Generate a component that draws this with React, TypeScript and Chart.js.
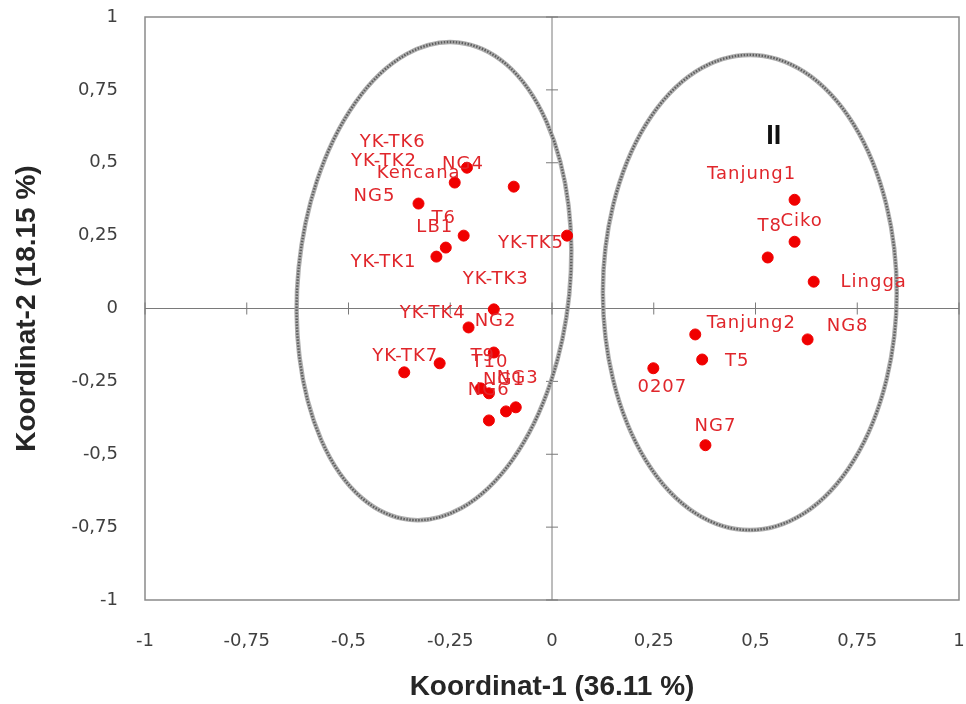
import React, { useEffect, useRef } from "react";
import { Chart, registerables } from "chart.js";

Chart.register(...registerables);

// ---- data ----
const genotypes = [
  "NG4", "Kencana", "YK-TK6", "NG5", "T6", "LB1", "YK-TK1", "YK-TK5", "YK-TK3",
  "NG2", "T9", "YK-TK4", "YK-TK7", "NG6", "T10", "NG1", "NG3", "YK-TK2",
  "Tanjung1", "Ciko", "T8", "Lingga", "Tanjung2", "NG8", "T5", "0207", "NG7",
];
const coord1 = [
  -0.209, -0.239, -0.094, -0.328, -0.217, -0.261, -0.284, 0.037, -0.143,
  -0.205, -0.143, -0.276, -0.363, -0.175, -0.155, -0.113, -0.089, -0.155,
  0.596, 0.596, 0.53, 0.643, 0.352, 0.628, 0.369, 0.249, 0.377,
];
const coord2 = [
  0.483, 0.432, 0.418, 0.36, 0.25, 0.209, 0.178, 0.25, -0.003,
  -0.065, -0.151, -0.188, -0.219, -0.274, -0.291, -0.353, -0.339, -0.384,
  0.373, 0.229, 0.175, 0.092, -0.089, -0.106, -0.175, -0.205, -0.469,
];
const xTickLabels = ["-1", "-0,75", "-0,5", "-0,25", "0", "0,25", "0,5", "0,75", "1"];
const yTickLabels = ["-1", "-0,75", "-0,5", "-0,25", "0", "0,25", "0,5", "0,75", "1"];

// group ellipses (data units)
const groupNames = ["", "II"];
const ellipseCx = [-0.29, 0.486];
const ellipseCy = [0.094, 0.055];
const ellipseRx = [0.334, 0.361];
const ellipseRy = [0.823, 0.815];
const groupNameY = [0, 0.59];
const groupNameX = [0, 0.545];

// ---- label layout (pixel offsets from each point) ----
const labelOffsets: [number, number][] = [
  [-4, -3], [-36, -9], [-121, -44], [-44, -7], [-20, -17], [-11, -20], [-53, 6], [-36, 8], [2, -30],
  [27, -6], [-11, 4], [-7, -50], [1, -16], [8, 2], [1, -31], [-2, -31], [2, -29], [-105, -259],
  [-43, -25], [7, -20], [2, -31], [60, 1], [56, -11], [40, -13], [35, 2], [9, 19], [10, -19],
];
const ellipseTilt = [0.1, 0];

const decorPlugin = {
  id: "decor",
  beforeDatasetsDraw(chart: any) {
    const { ctx, chartArea: a, scales } = chart;
    const xs = scales.x;
    const ys = scales.y;
    ctx.save();
    // box
    ctx.strokeStyle = "#8a8a8a";
    ctx.lineWidth = 1.5;
    ctx.strokeRect(a.left, a.top, a.right - a.left, a.bottom - a.top);
    // crossing axes
    const x0 = xs.getPixelForValue(0);
    const y0 = ys.getPixelForValue(0);
    ctx.strokeStyle = "#7a7a7a";
    ctx.lineWidth = 1;
    ctx.beginPath();
    ctx.moveTo(a.left, y0);
    ctx.lineTo(a.right, y0);
    ctx.moveTo(x0, a.top);
    ctx.lineTo(x0, a.bottom);
    xs.ticks.forEach((t: any) => {
      const px = xs.getPixelForValue(t.value);
      ctx.moveTo(px, y0 - 6);
      ctx.lineTo(px, y0 + 6);
    });
    ys.ticks.forEach((t: any) => {
      const py = ys.getPixelForValue(t.value);
      ctx.moveTo(x0 - 6, py);
      ctx.lineTo(x0 + 6, py);
    });
    ctx.stroke();
    // ellipses
    for (let i = 0; i < ellipseCx.length; i++) {
      const cx = xs.getPixelForValue(ellipseCx[i]);
      const cy = ys.getPixelForValue(ellipseCy[i]);
      const rx = Math.abs(xs.getPixelForValue(ellipseRx[i]) - xs.getPixelForValue(0));
      const ry = Math.abs(ys.getPixelForValue(ellipseRy[i]) - ys.getPixelForValue(0));
      ctx.setLineDash([]);
      ctx.strokeStyle = "rgba(165,165,165,0.9)";
      ctx.lineWidth = 4.5;
      ctx.beginPath();
      ctx.ellipse(cx, cy, rx, ry, ellipseTilt[i], 0, Math.PI * 2);
      ctx.stroke();
      ctx.setLineDash([1.5, 1.5]);
      ctx.strokeStyle = "rgba(85,85,85,0.9)";
      ctx.lineWidth = 2.4;
      ctx.beginPath();
      ctx.ellipse(cx, cy, rx, ry, ellipseTilt[i], 0, Math.PI * 2);
      ctx.stroke();
    }
    ctx.restore();
  },
  afterDatasetsDraw(chart: any) {
    const { ctx, scales } = chart;
    const meta = chart.getDatasetMeta(0);
    ctx.save();
    ctx.font = "18px 'DejaVu Sans'";
    (ctx as any).letterSpacing = "1px";
    ctx.fillStyle = "#e0262b";
    ctx.textAlign = "center";
    ctx.textBaseline = "middle";
    meta.data.forEach((el: any, i: number) => {
      const [dx, dy] = labelOffsets[i];
      ctx.fillText(genotypes[i], el.x + dx, el.y + dy);
    });
    (ctx as any).letterSpacing = "0px";
    ctx.fillStyle = "#111";
    ctx.font = "bold 27px 'Liberation Sans'";
    groupNames.forEach((n, i) => {
      if (!n) return;
      ctx.fillText(n, scales.x.getPixelForValue(groupNameX[i]), scales.y.getPixelForValue(groupNameY[i]));
    });
    ctx.restore();
  },
};

export default function App() {
  const ref = useRef<HTMLCanvasElement | null>(null);
  useEffect(() => {
    if (!ref.current) return;
    const tickFont = { family: "'DejaVu Sans'", size: 18 };
    const titleFont = { family: "'Liberation Sans'", size: 28, weight: "bold" as const };
    const chart = new Chart(ref.current, {
      type: "scatter",
      data: {
        datasets: [
          {
            label: "Genotipe",
            data: coord1.map((x, i) => ({ x, y: coord2[i] })),
            backgroundColor: "#f00000",
            borderColor: "#f00000",
            pointRadius: 5.5,
            pointHoverRadius: 5.5,
          },
        ],
      },
      options: {
        animation: false,
        responsive: false,
        events: [],
        layout: { padding: { top: 17, right: 7, left: 0, bottom: 0 } },
        plugins: { legend: { display: false }, tooltip: { enabled: false } },
        scales: {
          x: {
            type: "linear",
            min: -1,
            max: 1,
            grid: { display: false, drawTicks: false },
            border: { display: false },
            ticks: {
              stepSize: 0.25,
              padding: 31,
              color: "#404040",
              font: tickFont,
              maxRotation: 0,
              callback: (_v: any, i: number) => xTickLabels[i],
            },
            title: {
              display: true,
              text: "Koordinat-1 (36.11 %)",
              color: "#262626",
              font: titleFont,
              padding: { top: 0, bottom: 0 },
            },
            afterFit: (s: any) => {
              s.height = 104;
              s.paddingLeft = 0;
              s.paddingRight = 0;
              s.paddingTop = 0;
              s.paddingBottom = 0;
            },
          },
          y: {
            type: "linear",
            min: -1,
            max: 1,
            grid: { display: false, drawTicks: false },
            border: { display: false },
            ticks: {
              stepSize: 0.25,
              padding: 27,
              color: "#404040",
              font: tickFont,
              callback: (_v: any, i: number) => yTickLabels[i],
            },
            title: {
              display: true,
              text: "Koordinat-2 (18.15 %)",
              color: "#262626",
              font: titleFont,
              padding: { top: 10, bottom: 0 },
            },
            afterFit: (s: any) => {
              s.width = 145;
              s.paddingLeft = 0;
              s.paddingRight = 0;
              s.paddingTop = 0;
              s.paddingBottom = 0;
            },
          },
        },
      },
      plugins: [decorPlugin],
    });
    return () => chart.destroy();
  }, []);
  return (
    <div style={{ position: "fixed", left: 0, top: 0, width: 966, height: 704, background: "#fff" }}>
      <canvas ref={ref} width={966} height={704} style={{ width: 966, height: 704 }} />
    </div>
  );
}
